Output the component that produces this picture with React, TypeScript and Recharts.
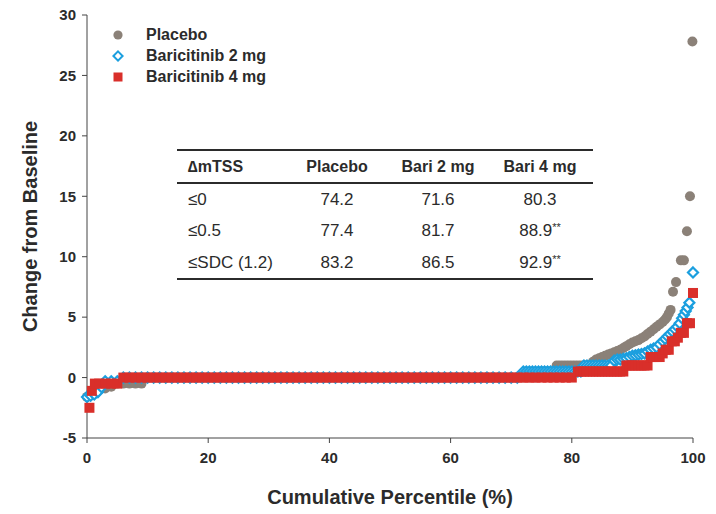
import { ScatterChart, Scatter, XAxis, YAxis } from "recharts";

// cumulative percentile (x) and change from baseline (y)
const placeboPct = [
  0, 0.5, 1, 1.5, 2, 3, 4, 5, 6, 7, 8, 9,
  10, 11, 12, 13, 14, 15, 16, 17, 18, 19, 20, 21, 22, 23, 24, 25, 26, 27, 28, 29,
  30, 31, 32, 33, 34, 35, 36, 37, 38, 39, 40, 41, 42, 43, 44, 45, 46, 47, 48, 49,
  50, 51, 52, 53, 54, 55, 56, 57, 58, 59, 60, 61, 62, 63, 64, 65, 66, 67, 68, 69,
  70, 71, 72, 73, 74,
  75, 75.5, 76, 76.5, 77,
  77.5, 78, 78.5, 79, 79.5, 80, 80.5, 81, 81.5, 82, 82.5, 83,
  83.5, 84, 84.5, 85, 85.5, 86, 86.5, 87, 87.5, 88, 88.5, 89, 89.5, 90, 90.5, 91, 91.5, 92,
  92.5, 93, 93.5, 94, 94.5, 95, 95.4, 95.7, 96, 96.3, 96.7, 97.2, 98, 98.5, 99, 99.5, 99.9,
];
const placeboVal = [
  -1.6, -1.5, -1.4, -1.2, -1.0, -0.9, -0.75, -0.5, -0.5, -0.5, -0.5, -0.5,
  0, 0, 0, 0, 0, 0, 0, 0, 0, 0, 0, 0, 0, 0, 0, 0, 0, 0, 0, 0,
  0, 0, 0, 0, 0, 0, 0, 0, 0, 0, 0, 0, 0, 0, 0, 0, 0, 0, 0, 0,
  0, 0, 0, 0, 0, 0, 0, 0, 0, 0, 0, 0, 0, 0, 0, 0, 0, 0, 0, 0,
  0, 0, 0, 0, 0,
  0.5, 0.5, 0.5, 0.5, 0.5,
  1.0, 1.0, 1.0, 1.0, 1.0, 1.0, 1.0, 1.0, 1.0, 1.0, 1.0, 1.0,
  1.3, 1.5, 1.6, 1.7, 1.8, 1.9, 2.0, 2.1, 2.2, 2.3, 2.45, 2.6, 2.75, 2.9, 3.0, 3.1, 3.25, 3.4,
  3.6, 3.8, 4.0, 4.2, 4.4, 4.6, 4.8, 5.0, 5.3, 5.6, 7.1, 7.9, 9.7, 9.7, 12.1, 15.0, 27.8,
];

const bari2Pct = [
  0, 0.6, 1.2, 1.8, 2.4, 3, 4, 5,
  6, 7, 8, 9, 10, 11, 12, 13, 14, 15, 16, 17, 18, 19, 20, 21, 22, 23, 24, 25, 26, 27, 28, 29,
  30, 31, 32, 33, 34, 35, 36, 37, 38, 39, 40, 41, 42, 43, 44, 45, 46, 47, 48, 49,
  50, 51, 52, 53, 54, 55, 56, 57, 58, 59, 60, 61, 62, 63, 64, 65, 66, 67, 68, 69,
  70, 71,
  72, 72.5, 73, 73.5, 74, 74.5, 75, 75.5, 76, 76.5, 77, 77.5, 78, 78.5, 79, 79.5, 80, 80.5, 81, 81.5,
  82, 82.5, 83, 83.5, 84, 84.5, 85, 85.5, 86, 86.5,
  87, 87.5, 88, 88.5, 89, 89.5, 90, 90.5, 91, 91.5, 92, 92.5, 93, 93.5, 94, 94.5,
  95, 95.4, 95.8, 96.2, 96.6, 97, 97.4, 97.8, 98.2, 98.5, 98.8, 99.1, 99.4, 100,
];
const bari2Val = [
  -1.6, -1.5, -1.4, -1.2, -0.8, -0.3, -0.3, -0.3,
  0, 0, 0, 0, 0, 0, 0, 0, 0, 0, 0, 0, 0, 0, 0, 0, 0, 0, 0, 0, 0, 0, 0, 0,
  0, 0, 0, 0, 0, 0, 0, 0, 0, 0, 0, 0, 0, 0, 0, 0, 0, 0, 0, 0,
  0, 0, 0, 0, 0, 0, 0, 0, 0, 0, 0, 0, 0, 0, 0, 0, 0, 0, 0, 0,
  0, 0,
  0.5, 0.5, 0.5, 0.5, 0.5, 0.5, 0.5, 0.5, 0.5, 0.5, 0.5, 0.5, 0.5, 0.5, 0.5, 0.5, 0.5, 0.5, 0.5, 0.5,
  1.0, 1.0, 1.0, 1.0, 1.0, 1.0, 1.0, 1.0, 1.0, 1.0,
  1.4, 1.5, 1.5, 1.55, 1.6, 1.7, 1.8, 1.85, 1.9, 1.95, 2.0, 2.15, 2.3, 2.4, 2.5, 2.75,
  3.0, 3.2, 3.4, 3.6, 3.8, 4.0, 4.2, 4.5, 4.9, 5.2, 5.5, 5.8, 6.2, 8.7,
];

const bari4Pct = [
  0.4, 0.8, 1.3, 2, 3, 4, 5,
  6, 7, 8, 9, 10, 11, 12, 13, 14, 15, 16, 17, 18, 19, 20, 21, 22, 23, 24, 25, 26, 27, 28, 29,
  30, 31, 32, 33, 34, 35, 36, 37, 38, 39, 40, 41, 42, 43, 44, 45, 46, 47, 48, 49,
  50, 51, 52, 53, 54, 55, 56, 57, 58, 59, 60, 61, 62, 63, 64, 65, 66, 67, 68, 69,
  70, 71, 72, 73, 74, 75, 76, 77, 78, 79, 80,
  81, 81.5, 82, 82.5, 83, 83.5, 84, 84.5, 85, 85.5, 86, 86.5, 87, 87.5, 88, 88.5,
  89, 89.5, 90, 90.5, 91, 91.5, 92, 92.5,
  93, 93.5, 94, 94.5, 95, 95.5, 96, 96.5, 97, 97.5, 98, 98.5, 99, 99.5, 100,
];
const bari4Val = [
  -2.5, -1.1, -0.5, -0.5, -0.5, -0.5, -0.5,
  0, 0, 0, 0, 0, 0, 0, 0, 0, 0, 0, 0, 0, 0, 0, 0, 0, 0, 0, 0, 0, 0, 0, 0,
  0, 0, 0, 0, 0, 0, 0, 0, 0, 0, 0, 0, 0, 0, 0, 0, 0, 0, 0, 0,
  0, 0, 0, 0, 0, 0, 0, 0, 0, 0, 0, 0, 0, 0, 0, 0, 0, 0, 0, 0,
  0, 0, 0, 0, 0, 0, 0, 0, 0, 0, 0,
  0.5, 0.5, 0.5, 0.5, 0.5, 0.5, 0.5, 0.5, 0.5, 0.5, 0.5, 0.5, 0.5, 0.5, 0.5, 0.5,
  1.0, 1.0, 1.0, 1.0, 1.0, 1.0, 1.0, 1.0,
  1.7, 1.7, 1.7, 1.7, 2.0, 2.3, 2.3, 3.0, 3.0, 3.3, 3.7, 3.7, 4.5, 4.5, 7.0,
];

const xTicks = [0, 20, 40, 60, 80, 100];
const yTicks = [-5, 0, 5, 10, 15, 20, 25, 30];

const tableHeader = ["\u2206mTSS", "Placebo", "Bari 2 mg", "Bari 4 mg"];
const tableRows = [
  ["\u22640", "74.2", "71.6", "80.3"],
  ["\u22640.5", "77.4", "81.7", "88.9**"],
  ["\u2264SDC (1.2)", "83.2", "86.5", "92.9**"],
];

const GREY = "#8b8178";
const BLUE = "#1b9fdf";
const RED = "#d92f2a";
const INK = "#2b2b2b";
const FONT = "'Liberation Sans', Arial, sans-serif";

const toPoints = (pct: number[], val: number[]) =>
  pct.map((x, i) => ({ x, y: val[i] }));

const CircleDot = (p: any) => <circle cx={p.cx} cy={p.cy} r={5} fill={GREY} />;
const DiamondDot = (p: any) => (
  <path
    d={`M${p.cx},${p.cy - 5}L${p.cx + 5},${p.cy}L${p.cx},${p.cy + 5}L${p.cx - 5},${p.cy}Z`}
    fill="#fff"
    stroke={BLUE}
    strokeWidth={2.2}
  />
);
const SquareDot = (p: any) => (
  <rect x={p.cx - 5} y={p.cy - 5} width={10} height={10} fill={RED} />
);

const legendItems = [
  { name: "Placebo", shape: "circle" },
  { name: "Baricitinib 2 mg", shape: "diamond" },
  { name: "Baricitinib 4 mg", shape: "square" },
];

const LegendIcon = ({ shape }: { shape: string }) => (
  <svg width={12} height={12} style={{ display: "block" }}>
    {shape === "circle" && <circle cx={6} cy={6} r={4.6} fill={GREY} />}
    {shape === "diamond" && (
      <path d="M6,1.4L10.6,6L6,10.6L1.4,6Z" fill="#fff" stroke={BLUE} strokeWidth={2} />
    )}
    {shape === "square" && <rect x={1.5} y={1.5} width={9} height={9} fill={RED} />}
  </svg>
);

const ChartLegend = () => (
  <div style={{ position: "absolute", left: 112, top: 24, fontFamily: FONT }}>
    {legendItems.map((it) => (
      <div key={it.name} style={{ display: "flex", alignItems: "center", height: 21 }}>
        <LegendIcon shape={it.shape} />
        <span style={{ marginLeft: 22, fontSize: 16, fontWeight: "bold", color: INK }}>
          {it.name}
        </span>
      </div>
    ))}
  </div>
);

const cellValue = (v: string) => {
  if (!v.endsWith("**")) return v;
  return (
    <>
      {v.slice(0, -2)}
      <span style={{ fontSize: 11, verticalAlign: 5 }}>**</span>
    </>
  );
};

const colWidths = [108, 104, 98, 106];

const StatsTable = () => (
  <table
    style={{
      position: "absolute",
      left: 177,
      top: 149,
      width: 416,
      borderCollapse: "collapse",
      fontFamily: FONT,
      color: INK,
      tableLayout: "fixed",
    }}
  >
    <colgroup>
      {colWidths.map((w, i) => (
        <col key={i} style={{ width: w }} />
      ))}
    </colgroup>
    <thead>
      <tr style={{ height: 33, borderTop: `2px solid ${INK}`, borderBottom: `2px solid ${INK}` }}>
        {tableHeader.map((h, i) => (
          <th
            key={h}
            style={{
              padding: 0,
              paddingLeft: i === 0 ? 11 : 0,
              textAlign: i === 0 ? "left" : "center",
              fontSize: 16,
              fontWeight: "bold",
            }}
          >
            {h}
          </th>
        ))}
      </tr>
    </thead>
    <tbody>
      {tableRows.map((row, r) => (
        <tr
          key={r}
          style={{
            height: 32,
            borderBottom: r === tableRows.length - 1 ? `2px solid ${INK}` : "none",
          }}
        >
          {row.map((c, i) => (
            <td
              key={i}
              style={{
                padding: 0,
                paddingLeft: i === 0 ? 11 : 0,
                textAlign: i === 0 ? "left" : "center",
                fontSize: 17,
              }}
            >
              {cellValue(c)}
            </td>
          ))}
        </tr>
      ))}
    </tbody>
  </table>
);

const tickStyle = { fill: INK, fontSize: 15, fontWeight: "bold", fontFamily: FONT };

export default function App() {
  return (
    <div style={{ position: "absolute", left: 0, top: 0, width: 716, height: 514, background: "#fff" }}>
      <ScatterChart width={716} height={514} margin={{ top: 15, right: 23, bottom: 0, left: 0 }}>
        <XAxis
          type="number"
          dataKey="x"
          domain={[0, 100]}
          ticks={xTicks}
          height={76}
          tick={tickStyle}
          tickSize={5}
          tickMargin={9}
          stroke="#444"
          label={{
            value: "Cumulative Percentile (%)",
            position: "insideBottom",
            offset: 10,
            style: { fill: INK, fontSize: 20, fontWeight: "bold", fontFamily: FONT },
          }}
        />
        <YAxis
          type="number"
          dataKey="y"
          domain={[-5, 30]}
          ticks={yTicks}
          width={87}
          tick={tickStyle}
          tickSize={5}
          tickMargin={6}
          stroke="#444"
          label={{
            value: "Change from Baseline",
            angle: -90,
            position: "insideLeft",
            offset: 30,
            style: { fill: INK, fontSize: 20, fontWeight: "bold", fontFamily: FONT, textAnchor: "middle" },
          }}
        />
        <Scatter
          name="Placebo"
          data={toPoints(placeboPct, placeboVal)}
          shape={CircleDot}
          isAnimationActive={false}
        />
        <Scatter
          name="Baricitinib 2 mg"
          data={toPoints(bari2Pct, bari2Val)}
          shape={DiamondDot}
          isAnimationActive={false}
        />
        <Scatter
          name="Baricitinib 4 mg"
          data={toPoints(bari4Pct, bari4Val)}
          shape={SquareDot}
          isAnimationActive={false}
        />
      </ScatterChart>
      <ChartLegend />
      <StatsTable />
    </div>
  );
}
